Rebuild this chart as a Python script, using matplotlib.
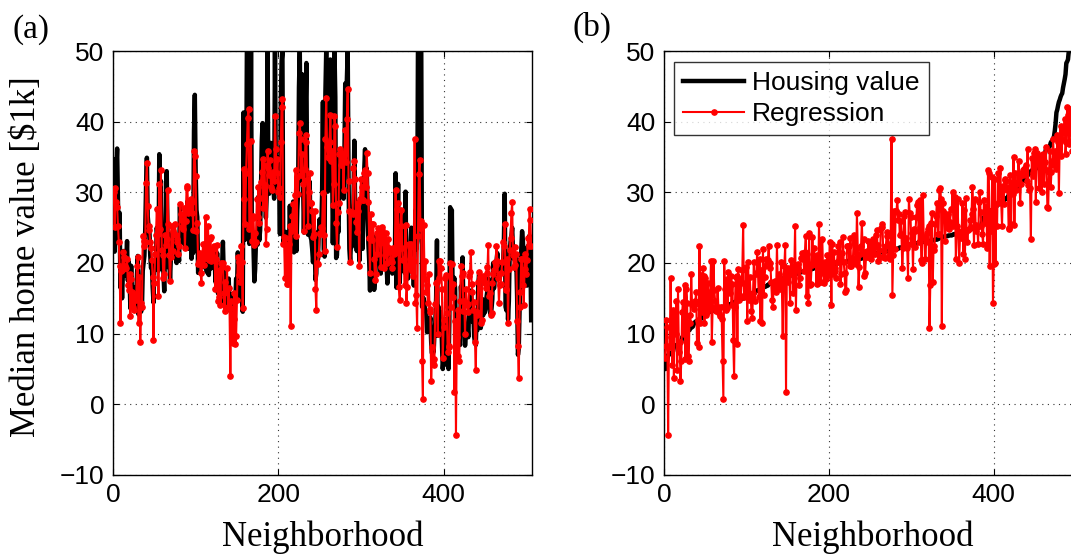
import numpy as np
import matplotlib
matplotlib.use("Agg")
import matplotlib.pyplot as plt

housing_value = [
24.0, 21.6, 34.7, 33.4, 36.2, 28.7, 22.9, 27.1, 16.5, 18.9, 15.0, 18.9, 21.7, 20.4, 18.2, 19.9, 23.1, 17.5, 20.2, 18.2,
13.6, 19.6, 15.2, 14.5, 15.6, 13.9, 16.6, 14.8, 18.4, 21.0, 12.7, 14.5, 13.2, 13.1, 13.5, 18.9, 20.0, 21.0, 24.7, 30.8,
34.9, 26.6, 25.3, 24.7, 21.2, 19.3, 20.0, 16.6, 14.4, 19.4, 19.7, 20.5, 25.0, 23.4, 18.9, 35.4, 24.7, 31.6, 23.3, 19.6,
18.7, 16.0, 22.2, 25.0, 33.0, 23.5, 19.4, 22.0, 17.4, 20.9, 24.2, 21.7, 22.8, 23.4, 24.1, 21.4, 20.0, 20.8, 21.2, 20.3,
28.0, 23.9, 24.8, 22.9, 23.9, 26.6, 22.5, 22.2, 23.6, 28.7, 22.6, 22.0, 22.9, 25.0, 20.6, 28.4, 21.4, 38.7, 43.8, 33.2,
27.5, 26.5, 18.6, 19.3, 20.1, 19.5, 19.5, 20.4, 19.8, 19.4, 21.7, 22.8, 18.8, 18.7, 18.5, 18.3, 21.2, 19.2, 20.4, 19.3,
22.0, 20.3, 20.5, 17.3, 18.8, 21.4, 15.7, 16.2, 18.0, 14.3, 19.2, 19.6, 23.0, 18.4, 15.6, 18.1, 17.4, 17.1, 13.3, 17.8,
14.0, 14.4, 13.4, 15.6, 11.8, 13.8, 15.6, 14.6, 17.8, 15.4, 21.5, 19.6, 15.3, 19.4, 17.0, 15.6, 13.1, 41.3, 24.3, 23.3,
27.0, 50.0, 50.0, 50.0, 22.7, 25.0, 50.0, 23.8, 23.8, 22.3, 17.4, 19.1, 23.1, 23.6, 22.6, 29.4, 23.2, 24.6, 29.9, 37.2,
39.8, 36.2, 37.9, 32.5, 26.4, 29.6, 50.0, 32.0, 29.8, 34.9, 37.0, 30.5, 36.4, 31.1, 29.1, 50.0, 33.3, 30.3, 34.6, 34.9,
32.9, 24.1, 42.3, 48.5, 50.0, 22.6, 24.4, 22.5, 24.4, 20.0, 21.7, 19.3, 22.4, 28.1, 23.7, 25.0, 23.3, 28.7, 21.5, 23.0,
26.7, 21.7, 27.5, 30.1, 44.8, 50.0, 37.6, 31.6, 46.7, 31.5, 24.3, 31.7, 41.7, 48.3, 29.0, 24.0, 25.1, 31.5, 23.7, 23.3,
22.0, 20.1, 22.2, 23.7, 17.6, 18.5, 24.3, 20.5, 24.5, 26.2, 24.4, 24.8, 29.6, 42.8, 21.9, 20.9, 44.0, 50.0, 36.0, 30.1,
33.8, 43.1, 48.8, 31.0, 36.5, 22.8, 30.7, 50.0, 43.5, 20.7, 21.1, 25.2, 24.4, 35.2, 32.4, 32.0, 33.2, 33.1, 29.1, 35.1,
45.4, 35.4, 46.0, 50.0, 32.2, 22.0, 20.1, 23.2, 22.3, 24.8, 28.5, 37.3, 27.9, 23.9, 21.7, 28.6, 27.1, 20.3, 22.5, 29.0,
24.8, 22.0, 26.4, 33.1, 36.1, 28.4, 33.4, 28.2, 22.8, 20.3, 16.1, 22.1, 19.4, 21.6, 23.8, 16.2, 17.8, 19.8, 23.1, 21.0,
23.8, 23.1, 20.4, 18.5, 25.0, 24.6, 23.0, 22.2, 19.3, 22.6, 19.8, 17.1, 19.4, 22.2, 20.7, 21.1, 19.5, 18.5, 20.6, 19.0,
18.7, 32.7, 16.5, 23.9, 31.2, 17.5, 17.2, 23.1, 24.5, 26.6, 22.9, 24.1, 18.6, 30.1, 18.2, 20.6, 17.8, 21.7, 22.7, 22.6,
25.0, 19.9, 20.8, 16.8, 21.9, 27.5, 21.9, 23.1, 50.0, 50.0, 50.0, 50.0, 50.0, 13.8, 13.8, 15.0, 13.9, 13.3, 13.1, 10.2,
10.4, 10.9, 11.3, 12.3, 8.8, 7.2, 10.5, 7.4, 10.2, 11.5, 15.1, 23.2, 9.7, 13.8, 12.7, 13.1, 12.5, 8.5, 5.0, 6.3,
5.6, 7.2, 12.1, 8.3, 8.5, 5.0, 11.9, 27.9, 17.2, 27.5, 15.0, 17.2, 17.9, 16.3, 7.0, 7.2, 7.5, 10.4, 8.8, 8.4,
16.7, 14.2, 20.8, 13.4, 11.7, 8.3, 10.2, 10.9, 11.0, 9.5, 14.5, 14.1, 16.1, 14.3, 11.7, 13.4, 9.6, 8.7, 8.4, 12.8,
10.5, 17.1, 18.4, 15.4, 10.8, 11.8, 14.9, 12.6, 14.1, 13.0, 13.4, 15.2, 16.1, 17.8, 14.9, 14.1, 12.7, 13.5, 14.9, 20.0,
16.4, 17.7, 19.5, 20.2, 21.4, 19.9, 19.0, 19.1, 19.1, 20.1, 19.9, 19.6, 23.2, 29.8, 13.8, 13.3, 16.7, 12.0, 14.6, 21.4,
23.0, 23.7, 25.0, 21.8, 20.6, 21.2, 19.1, 20.6, 15.2, 7.0, 8.1, 13.6, 20.1, 21.8, 24.5, 23.1, 19.7, 18.3, 21.2, 17.5,
16.8, 22.4, 20.6, 23.9, 22.0, 11.9,
]

regression = [
30.00, 25.03, 30.57, 28.61, 27.94, 25.26, 23.00, 19.54, 11.52, 18.92, 19.00, 21.59, 20.91, 19.55, 19.28, 19.30, 20.53, 16.91, 16.18, 18.41,
12.52, 17.67, 15.83, 13.81, 15.68, 13.39, 15.46, 14.71, 19.55, 20.88, 11.46, 18.06, 8.81, 14.28, 13.71, 23.81, 22.34, 23.11, 22.92, 31.36,
34.22, 28.02, 25.20, 24.61, 22.94, 22.10, 20.42, 18.04, 9.11, 17.21, 21.28, 23.97, 27.66, 24.05, 15.36, 31.15, 24.86, 33.11, 21.78, 21.08,
17.87, 18.51, 23.99, 22.55, 23.37, 30.36, 25.53, 21.11, 17.42, 20.78, 25.20, 21.74, 24.56, 24.04, 25.50, 23.97, 22.95, 23.36, 21.26, 22.43,
28.41, 26.99, 26.04, 25.06, 24.78, 27.79, 22.17, 25.89, 30.67, 30.83, 27.12, 27.41, 28.94, 29.08, 27.04, 28.62, 24.73, 35.78, 35.11, 32.25,
24.58, 25.59, 19.79, 20.31, 21.43, 18.54, 17.19, 20.75, 22.65, 19.77, 20.65, 26.53, 20.77, 20.72, 25.17, 20.43, 23.38, 23.69, 20.34, 20.79,
21.92, 22.47, 20.56, 16.37, 20.56, 22.48, 14.62, 15.18, 18.94, 14.06, 20.04, 19.41, 20.06, 15.76, 13.26, 17.26, 15.88, 19.36, 13.81, 16.45,
13.57, 3.99, 14.59, 12.15, 8.73, 12.04, 15.82, 8.51, 9.72, 14.80, 20.84, 18.30, 20.12, 17.29, 22.37, 20.10, 13.62, 33.26, 29.03, 25.57,
32.71, 36.77, 40.56, 41.85, 24.79, 25.38, 37.20, 23.09, 26.40, 26.65, 22.56, 24.29, 22.98, 29.07, 26.52, 30.72, 25.62, 29.14, 31.44, 32.92,
34.72, 27.77, 33.89, 30.99, 22.72, 24.76, 35.88, 33.42, 32.41, 34.52, 30.76, 30.29, 32.92, 32.11, 31.56, 40.85, 36.13, 32.67, 34.70, 30.09,
30.64, 29.29, 37.07, 42.03, 43.19, 22.69, 23.68, 17.85, 23.49, 17.01, 22.39, 17.06, 22.74, 25.22, 11.12, 24.51, 26.60, 28.36, 24.92, 29.69,
33.18, 23.77, 32.14, 29.75, 38.37, 39.81, 37.59, 32.40, 35.46, 31.23, 24.48, 33.29, 38.05, 37.16, 31.71, 25.27, 30.10, 32.72, 28.43, 28.43,
27.29, 23.74, 24.12, 27.40, 16.33, 13.40, 20.02, 19.86, 21.29, 24.08, 24.21, 25.04, 24.92, 29.95, 23.97, 21.70, 37.51, 43.30, 36.48, 34.99,
34.81, 37.17, 40.99, 34.45, 35.83, 28.25, 31.23, 40.84, 39.32, 25.71, 22.30, 27.20, 28.51, 35.48, 36.11, 33.80, 35.61, 34.84, 30.35, 35.31,
38.80, 34.33, 40.34, 44.67, 31.60, 27.36, 20.10, 27.04, 27.21, 26.91, 33.44, 34.40, 31.83, 25.82, 24.43, 28.46, 27.36, 19.54, 29.11, 31.91,
30.77, 28.94, 28.88, 32.80, 33.21, 30.77, 35.56, 32.71, 28.64, 23.59, 18.54, 26.88, 23.28, 25.55, 25.48, 20.54, 17.62, 18.38, 24.29, 21.33,
24.89, 24.87, 22.87, 19.45, 25.12, 24.67, 23.68, 19.34, 21.17, 24.25, 21.59, 19.98, 23.34, 22.14, 21.56, 20.62, 20.16, 19.28, 22.17, 21.25,
21.43, 30.33, 22.05, 27.71, 28.55, 16.55, 14.78, 25.27, 27.54, 22.15, 20.46, 20.55, 16.88, 25.40, 14.32, 16.59, 19.64, 22.72, 22.20, 19.21,
22.67, 18.93, 18.23, 20.23, 37.49, 14.28, 15.54, 10.83, 23.80, 32.64, 34.61, 24.94, 26.00, 6.13, 0.78, 25.31, 17.74, 20.23, 15.83, 16.84,
14.37, 18.48, 13.43, 13.06, 3.28, 8.06, 6.13, 5.62, 6.45, 14.21, 17.21, 17.30, 9.89, 20.22, 17.94, 20.30, 19.30, 16.34, 6.55, 10.89,
11.88, 17.81, 18.26, 12.98, 7.38, 8.21, 8.07, 19.98, 13.71, 19.85, 15.22, 16.96, 1.72, 11.81, -4.28, 9.58, 13.37, 6.90, 6.15, 14.61,
19.60, 18.12, 18.52, 13.18, 14.63, 9.92, 16.35, 14.08, 14.26, 13.04, 18.16, 18.70, 21.53, 17.03, 15.96, 13.36, 14.52, 8.82, 4.87, 13.07,
12.71, 17.30, 18.74, 18.06, 11.51, 11.97, 17.68, 18.13, 17.52, 17.23, 16.52, 19.41, 18.58, 22.49, 15.28, 15.82, 12.69, 12.88, 17.19, 18.51,
19.05, 20.17, 19.77, 22.43, 20.32, 17.89, 14.37, 16.95, 16.98, 18.59, 20.17, 22.98, 22.46, 25.58, 16.39, 16.11, 20.53, 11.54, 19.20, 21.86,
23.47, 27.10, 28.57, 21.08, 19.46, 22.22, 19.66, 21.33, 11.86, 8.22, 3.66, 13.76, 15.93, 20.63, 20.61, 16.89, 14.01, 19.11, 21.30, 18.45,
20.47, 23.53, 22.38, 27.63, 26.13, 22.34,
]

x_ticks = [0, 200, 400]
y_ticks = [-10, 0, 10, 20, 30, 40, 50]

n = min(len(housing_value), len(regression))
hv = np.array(housing_value[:n])
rg = np.array(regression[:n])
idx = np.arange(1, n + 1)
order = np.argsort(hv, kind="stable")

serif = ["Liberation Serif", "DejaVu Serif"]
sans = ["Liberation Sans", "DejaVu Sans"]
plt.rcParams["font.family"] = sans
plt.rcParams["axes.unicode_minus"] = True

fig = plt.figure(figsize=(10.71, 5.55), dpi=100)
ax_a = fig.add_axes([113 / 1071, 80 / 555, 419 / 1071, 424 / 555])
ax_b = fig.add_axes([664 / 1071, 80 / 555, 418 / 1071, 424 / 555])

def style(ax):
    ax.set_xlim(0, 507)
    ax.set_ylim(-10, 50)
    ax.set_xticks(x_ticks)
    ax.set_yticks(y_ticks)
    ax.tick_params(direction="in", labelsize=19, length=4, width=0.8, top=True, right=True, pad=6)
    ax.grid(True, linestyle=(0, (1, 4)), color="#333333", linewidth=0.8)
    for s in ax.spines.values():
        s.set_linewidth(1.0)
    ax.set_xlabel("Neighborhood", fontsize=25, family=serif)
    ax.xaxis.set_label_coords(0.5, -0.108)
    ax.xaxis.label.set_va("top")

# Panel (a)
ax_a.plot(idx, hv, color="black", linewidth=3.2, label="Housing value", zorder=2)
ax_a.plot(idx, rg, color="red", linewidth=1.5, marker="o", markersize=3.8, label="Regression", zorder=3)
style(ax_a)
ax_a.set_ylabel("Median home value [$1k]", fontsize=25, family=serif)
ax_a.yaxis.set_label_coords(-0.168, 0.516)

# Panel (b)
ax_b.plot(idx, hv[order], color="black", linewidth=3.2, label="Housing value", zorder=2)
ax_b.plot(idx, rg[order], color="red", linewidth=1.5, marker="o", markersize=3.8, label="Regression", zorder=3)
style(ax_b)
leg = ax_b.legend(loc="upper left", fontsize=19, frameon=True, fancybox=False, edgecolor="black",
                  borderpad=0.35, handlelength=2.3, handletextpad=0.3, labelspacing=0.25,
                  bbox_to_anchor=(0.024, 0.974), borderaxespad=0.0)
leg.get_frame().set_linewidth(1.0)

fig.text(13 / 1071, 1 - 30 / 555, "(a)", fontsize=24, family=serif, va="center", ha="left")
fig.text(573 / 1071, 1 - 27 / 555, "(b)", fontsize=24, family=serif, va="center", ha="left")

fig.savefig("out.png", dpi=100)
